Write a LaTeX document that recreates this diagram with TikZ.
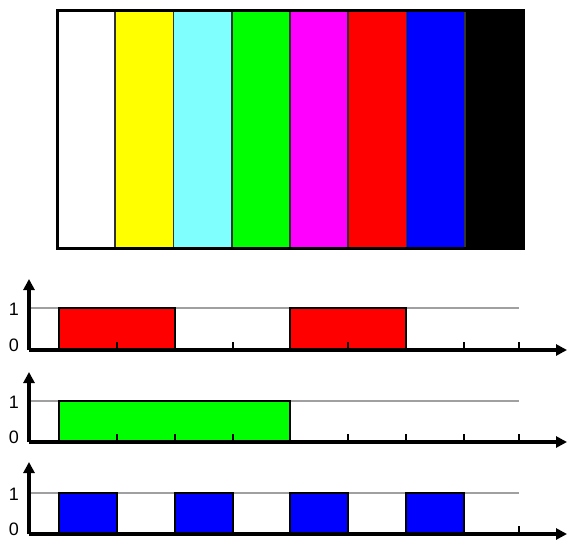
\documentclass[tikz,border=0pt]{standalone}
\usepackage{fontspec}
\setmainfont{Liberation Sans}
\usetikzlibrary{arrows.meta}
\definecolor{cyanl}{RGB}{128,255,255}
\definecolor{yel}{RGB}{255,255,0}
\definecolor{grn}{RGB}{0,255,0}
\definecolor{mag}{RGB}{255,0,255}
\definecolor{rd}{RGB}{255,0,0}
\definecolor{bl}{RGB}{0,0,255}
\definecolor{grayl}{RGB}{160,160,160}
\tikzset{
  axis/.style={line width=3.2pt, -{Triangle[width=11pt,length=11pt]}},
  level/.style={draw=grayl, line width=1.6pt},
  pulse/.style={draw=black, line width=1.2pt},
  tick/.style={line width=1.6pt},
  lbl/.style={font=\fontsize{18}{18}\selectfont, inner sep=0pt},
}
\newcommand{\graphlevel}[3]{%
  \coordinate (o#3) at (29,#1);
  \draw[level] (29,#2) -- (519,#2);
  \node[lbl] (one#3) at (14,{#2+1}) {1};
  \node[lbl] (zero#3) at (14,{#1-5}) {0};
}
\newcommand{\graphticks}[1]{%
  \foreach \t in {117,175,233,290,348,406,464,519}{
    \draw[tick] (\t,#1) -- (\t,{#1-8});
  }
}
\begin{document}
\begin{tikzpicture}[x=1pt,y=-1pt]
\useasboundingbox (0,0) rectangle (567,540);
% colour bars
\foreach \c [count=\i from 0] in {white,yel,cyanl,grn,mag,rd,bl,black}{
  \fill[\c] ({57+58.25*\i},11) rectangle ({57+58.25*(\i+1)},248);
}
\foreach \i in {1,...,7}{
  \draw[line width=1.6pt, black!80] ({57+58.25*\i},11) -- ({57+58.25*\i},248);
}
\draw[line width=3pt] (57,11) rectangle (523,248);

% graph 1
\graphlevel{350}{308}{a}
\draw[pulse, fill=rd] (59,308) rectangle (175,350);
\draw[pulse, fill=rd] (290,308) rectangle (406,350);
\graphticks{350}
\coordinate (ya) at (29,279);
\coordinate (xa) at (567,350);
\draw[axis] (oa) -- (ya);
\draw[axis] (oa) -- (xa);
% graph 2
\graphlevel{442}{401}{b}
\draw[pulse, fill=grn] (59,401) rectangle (290,442);
\graphticks{442}
\coordinate (yb) at (29,372);
\coordinate (xb) at (567,442);
\draw[axis] (ob) -- (yb);
\draw[axis] (ob) -- (xb);
% graph 3
\graphlevel{534}{493}{c}
\foreach \s in {59,175,290,406}{
  \draw[pulse, fill=bl] (\s,493) rectangle ({\s+58},534);
}
\graphticks{534}
\coordinate (yc) at (29,462);
\coordinate (xc) at (567,534);
\draw[axis] (oc) -- (yc);
\draw[axis] (oc) -- (xc);
\end{tikzpicture}
\end{document}
